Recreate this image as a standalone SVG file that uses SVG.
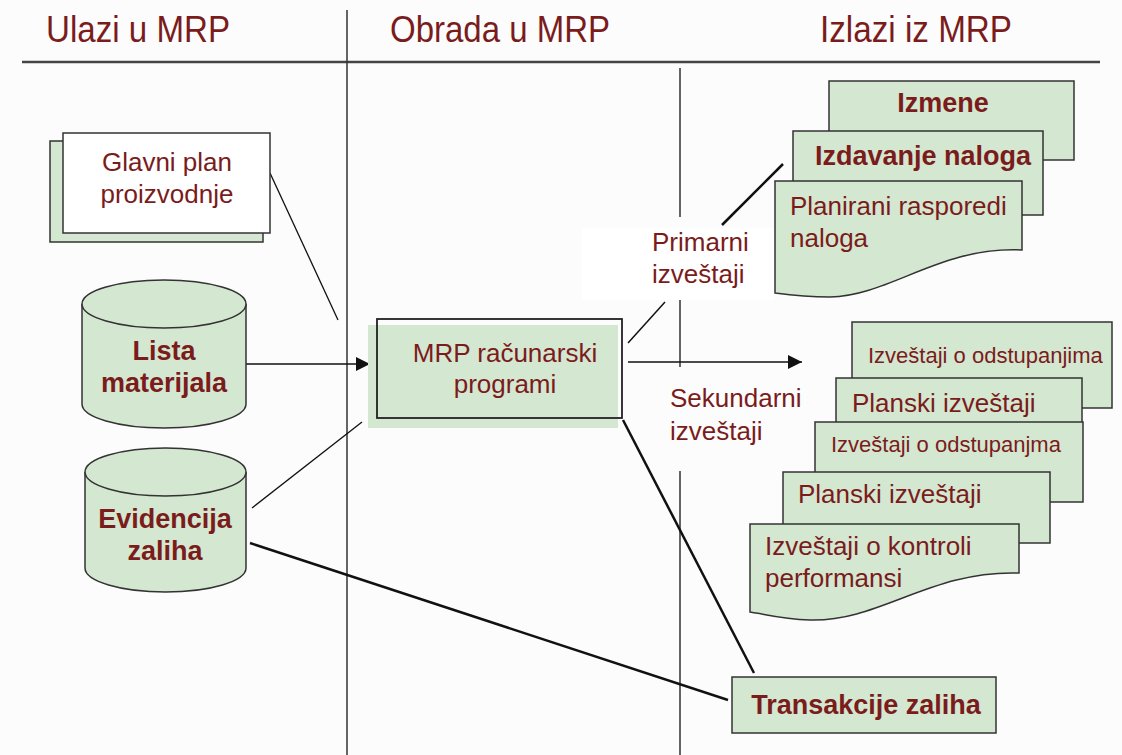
<svg xmlns="http://www.w3.org/2000/svg" width="1122" height="755" viewBox="0 0 1122 755">
<defs>
<style>
.t{font-family:"Liberation Sans",Arial,sans-serif;fill:#7a1c1c}
.h{font-size:36px}
.n{font-size:26px}
.s{font-size:22px}
.b{font-size:27px;font-weight:bold}
.g{fill:#d4e7d0;stroke:#333;stroke-width:1.5}
.sep{stroke:#333;stroke-width:1.5;fill:none}
.c{stroke:#111;fill:none}
</style>
<marker id="ar" viewBox="0 0 10 10" refX="10" refY="5" markerWidth="14" markerHeight="14" markerUnits="userSpaceOnUse" orient="auto">
<path d="M0,0 L10,5 L0,10 z" fill="#111"/>
</marker>
</defs>
<rect width="1122" height="755" fill="#fcfcfc"/>
<rect x="582" y="228" width="193" height="72" fill="#ffffff"/>

<g id="headers">
<text class="t h" x="46" y="42" textLength="184" lengthAdjust="spacingAndGlyphs">Ulazi u MRP</text>
<text class="t h" x="390" y="42" textLength="220" lengthAdjust="spacingAndGlyphs">Obrada u MRP</text>
<text class="t h" x="820" y="42" textLength="192" lengthAdjust="spacingAndGlyphs">Izlazi iz MRP</text>
</g>

<g id="separators">
<line class="sep" x1="22" y1="62" x2="1100" y2="62" style="stroke:#444;stroke-width:2.5"/>
<line class="sep" x1="347" y1="10" x2="347" y2="755"/>
<line class="sep" x1="680" y1="68" x2="680" y2="217"/>
<line class="sep" x1="680" y1="300" x2="680" y2="367"/>
<line class="sep" x1="680" y1="471" x2="680" y2="755"/>
</g>

<g id="connectors">
<line class="c" x1="270" y1="173" x2="338" y2="320" stroke-width="1.3"/>
<line class="c" x1="246" y1="364" x2="370" y2="364" stroke-width="1.5" marker-end="url(#ar)"/>
<line class="c" x1="252" y1="508" x2="362" y2="422" stroke-width="1.3"/>
<line class="c" x1="250" y1="543" x2="728" y2="700" stroke-width="2.5"/>
<line class="c" x1="628" y1="343" x2="665" y2="302" stroke-width="1.5"/>
<line class="c" x1="722" y1="225" x2="783" y2="164" stroke-width="2.5"/>
<line class="c" x1="628" y1="362" x2="802" y2="362" stroke-width="1.5" marker-end="url(#ar)"/>
<line class="c" x1="623" y1="420" x2="754" y2="673" stroke-width="2.5"/>
</g>

<g id="glavni-plan">
<rect class="g" x="50" y="141" width="213" height="101"/>
<rect x="63" y="133" width="207" height="100" fill="#ffffff" stroke="#333" stroke-width="1.5"/>
<text class="t n" x="167" y="171" text-anchor="middle">Glavni plan</text>
<text class="t n" x="167" y="203" text-anchor="middle">proizvodnje</text>
</g>

<g id="lista-materijala">
<path class="g" d="M82,304 V404 A82,24 0 0 0 246,404 V304"/>
<ellipse class="g" cx="164" cy="304" rx="82" ry="24"/>
<text class="t b" x="164" y="360" text-anchor="middle">Lista</text>
<text class="t b" x="164" y="392" text-anchor="middle">materijala</text>
</g>

<g id="evidencija-zaliha">
<path class="g" d="M85,472 V568 A80.5,24 0 0 0 246,568 V472"/>
<ellipse class="g" cx="165.5" cy="472" rx="80.5" ry="24"/>
<text class="t b" x="165" y="528" text-anchor="middle">Evidencija</text>
<text class="t b" x="165" y="560" text-anchor="middle">zaliha</text>
</g>

<g id="mrp">
<rect x="368" y="325" width="250" height="103" fill="#d4e7d0"/>
<rect x="377" y="319" width="245" height="99" fill="none" stroke="#222" stroke-width="1.8"/>
<text class="t n" x="505" y="362" text-anchor="middle">MRP računarski</text>
<text class="t n" x="505" y="393" text-anchor="middle">programi</text>
</g>

<g id="primarni-label">
<text class="t n" x="652" y="251">Primarni</text>
<text class="t n" x="652" y="283">izveštaji</text>
</g>

<g id="sekundarni-label">
<text class="t n" x="670" y="407">Sekundarni</text>
<text class="t n" x="670" y="440">izveštaji</text>
</g>

<g id="izmene">
<rect class="g" x="829" y="81" width="245" height="79"/>
<text class="t b" x="943" y="112" text-anchor="middle">Izmene</text>
</g>

<g id="izdavanje-naloga">
<rect class="g" x="793" y="131" width="250" height="84"/>
<text class="t b" x="923" y="165" text-anchor="middle">Izdavanje naloga</text>
</g>

<g id="planirani-rasporedi">
<path class="g" d="M775,181 H1022 V250 C940,246 890,296 830,297 C805,297 790,295 775,293 Z"/>
<text class="t n" x="790" y="215">Planirani rasporedi</text>
<text class="t n" x="790" y="247">naloga</text>
</g>

<g id="odstupanja-1">
<rect class="g" x="852" y="322" width="260" height="86"/>
<text class="t s" x="868" y="363">Izveštaji o odstupanjima</text>
</g>

<g id="planski-1">
<rect class="g" x="836" y="378" width="246" height="87"/>
<text class="t n" x="852" y="412">Planski izveštaji</text>
</g>

<g id="odstupanja-2">
<rect class="g" x="815" y="422" width="268" height="80"/>
<text class="t s" x="831" y="452">Izveštaji o odstupanjma</text>
</g>

<g id="planski-2">
<rect class="g" x="783" y="472" width="267" height="71"/>
<text class="t n" x="798" y="503">Planski izveštaji</text>
</g>

<g id="kontrola-performansi">
<path class="g" d="M750,524 H1019 V573 C930,570 880,622 810,620 C780,619 765,614 750,612 Z"/>
<text class="t n" x="765" y="555">Izveštaji o kontroli</text>
<text class="t n" x="765" y="587">performansi</text>
</g>

<g id="transakcije-zaliha">
<rect class="g" x="732" y="677" width="264" height="56"/>
<text class="t b" x="866" y="714" text-anchor="middle">Transakcije zaliha</text>
</g>
</svg>
